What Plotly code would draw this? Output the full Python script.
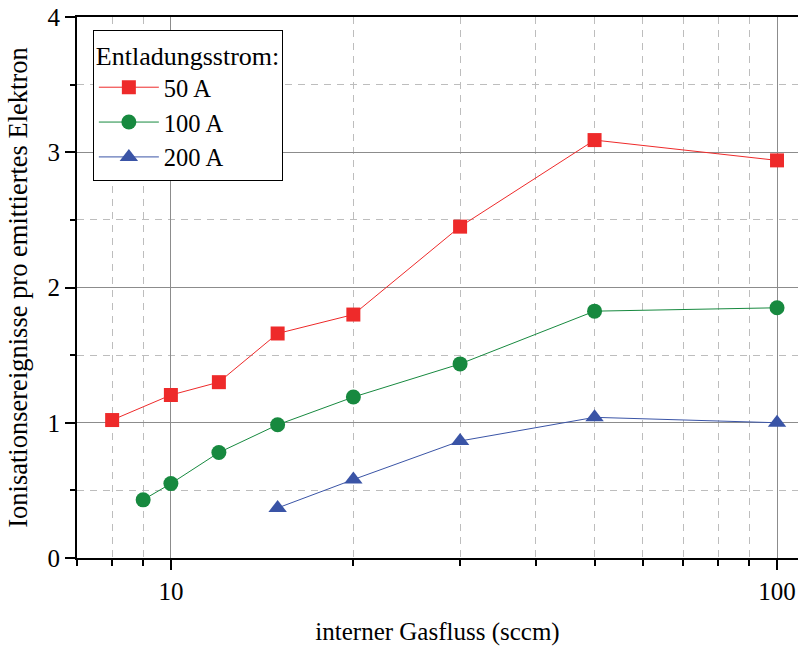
import plotly.graph_objects as go
import math

flow_50 = [8, 10, 12, 15, 20, 30, 50, 100]
ion_50 = [1.02, 1.205, 1.30, 1.66, 1.80, 2.45, 3.09, 2.94]
flow_100 = [9, 10, 12, 15, 20, 30, 50, 100]
ion_100 = [0.43, 0.55, 0.78, 0.985, 1.19, 1.435, 1.825, 1.85]
flow_200 = [15, 20, 30, 50, 100]
ion_200 = [0.37, 0.58, 0.865, 1.04, 1.0]

series_names = ["50 A", "100 A", "200 A"]
x_major = [10, 100]
x_minor = [7, 8, 9, 20, 30, 40, 50, 60, 70, 80, 90]
y_major = [0, 1, 2, 3, 4]
y_minor = [0.5, 1.5, 2.5, 3.5]

FONT = "Liberation Serif, Times New Roman, serif"
RED = "#EE2A2A"
GREEN = "#17893F"
BLUE = "#3A54A6"

fig = go.Figure()
for xs, ys, name, col, sym, sz in [
    (flow_50, ion_50, series_names[0], RED, "square", 14),
    (flow_100, ion_100, series_names[1], GREEN, "circle", 15),
    (flow_200, ion_200, series_names[2], BLUE, "triangle-up", 16),
]:
    fig.add_trace(go.Scatter(
        x=xs, y=ys, name=name, mode="lines+markers",
        line=dict(color=col, width=1),
        marker=dict(color=col, symbol=sym, size=sz, line=dict(width=0)),
    ))

fig.update_layout(
    width=798, height=646,
    margin=dict(l=77, r=0, t=17, b=88),
    plot_bgcolor="white", paper_bgcolor="white",
    font=dict(family=FONT, size=25, color="black"),
    showlegend=True,
    legend=dict(
        x=0.022, y=0.976, xanchor="left", yanchor="top",
        bgcolor="white", bordercolor="black", borderwidth=1,
        font=dict(family=FONT, size=24.5, color="black"),
        title=dict(text="Entladungsstrom:", font=dict(family=FONT, size=26)),
        tracegroupgap=0, itemwidth=60,
    ),
    xaxis=dict(
        type="log", range=[math.log10(7), 2.0346],
        tickvals=x_major, ticktext=[str(v) for v in x_major],
        ticks="outside", ticklen=10, tickwidth=2, tickcolor="black",
        showline=True, linecolor="black", linewidth=2, mirror=True,
        showgrid=True, gridcolor="#8c8c8c", gridwidth=1,
        zeroline=False,
        minor=dict(tickvals=x_minor, ticks="outside", ticklen=6, tickwidth=2,
                   tickcolor="black", showgrid=True, gridcolor="#bdbdbd",
                   griddash="7px,6px", gridwidth=1),
        title=dict(text="interner Gasfluss (sccm)", font=dict(size=25), standoff=22),
        tickfont=dict(size=25),
    ),
    yaxis=dict(
        range=[0, 4],
        tickvals=y_major,
        ticks="outside", ticklen=10, tickwidth=2, tickcolor="black",
        showline=True, linecolor="black", linewidth=2,
        showgrid=True, gridcolor="#8c8c8c", gridwidth=1,
        zeroline=False,
        minor=dict(tickvals=y_minor, ticks="outside", ticklen=5, tickwidth=2,
                   tickcolor="black", showgrid=True, gridcolor="#bdbdbd",
                   griddash="7px,6px", gridwidth=1),
        title=dict(text="Ionisationsereignisse pro emittiertes Elektron",
                   font=dict(size=26.5), standoff=12),
        tickfont=dict(size=25),
    ),
    yaxis2=dict(
        overlaying="y", side="right", anchor="x", range=[0, 4],
        tickvals=y_major, showticklabels=False,
        ticks="inside", ticklen=6, tickwidth=2, tickcolor="black",
        showline=False, showgrid=False, zeroline=False,
        minor=dict(tickvals=y_minor, ticks="inside", ticklen=3, tickwidth=2, tickcolor="black"),
    ),
)

fig.write_html("out.html")
